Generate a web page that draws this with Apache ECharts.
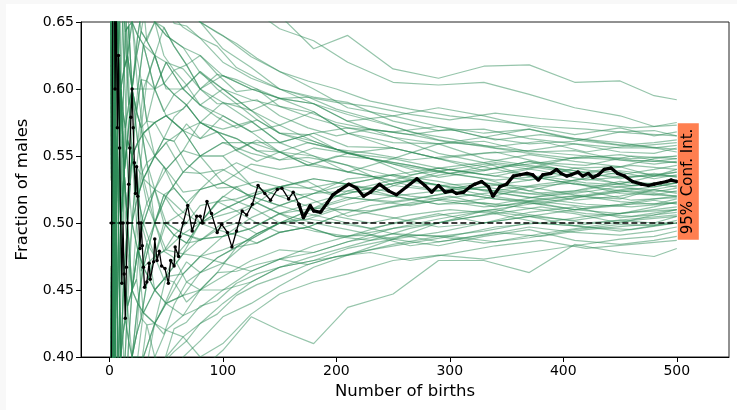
<!DOCTYPE html>
<html><head><meta charset="utf-8">
<script src="https://cdn.jsdelivr.net/npm/echarts@6/dist/echarts.min.js"></script>
<style>
html,body{margin:0;padding:0;background:#f8f8f8;}
#bg{position:absolute;left:6px;top:4px;right:0;bottom:0;background:#fff;}
#c{position:absolute;left:0;top:0;width:737px;height:410px;}
</style></head>
<body><div id="bg"></div><div id="c"></div>
<script>
// ---- data ----
const xTicks = [0, 100, 200, 300, 400, 500];
const yTicks = [0.40, 0.45, 0.50, 0.55, 0.60, 0.65];
const refX = [0, 500];
const refY = [0.5, 0.5];
const labelText = '95% Conf. Int.';
const labelAt = [500, 0.531];

const blackX = [1,2,3,4,5,6,7,8,9,10,11,12,13,14,15,16,17,18,19,20,21,22,23,24,25,26,27,28,29,30,31,33,35,36,39,40,42,44,46,49,52,54,57,58,61,62,65,69,73,77,80,82,86,90,95,99,104,108,112,117,121,126,131,137,142,148,152,158,162,167,171,177,180,186,192,197,202,211,218,224,230,238,246,253,262,271,278,284,290,296,302,306,312,318,322,328,334,338,344,350,356,362,368,373,378,382,389,394,398,403,407,413,417,422,426,431,436,442,448,454,461,469,475,480,486,491,495,500];
const blackY = [0,0.5,0.667,0.75,0.6,0.667,0.571,0.625,0.556,0.5,0.455,0.5,0.462,0.429,0.467,0.5,0.529,0.556,0.579,0.6,0.571,0.545,0.522,0.542,0.52,0.5,0.481,0.5,0.483,0.467,0.452,0.456,0.47,0.458,0.471,0.488,0.472,0.479,0.468,0.466,0.455,0.472,0.468,0.482,0.475,0.49,0.5,0.513,0.494,0.505,0.505,0.5,0.516,0.507,0.493,0.499,0.493,0.482,0.494,0.509,0.506,0.514,0.528,0.522,0.517,0.525,0.526,0.518,0.523,0.514,0.504,0.513,0.509,0.508,0.515,0.521,0.524,0.529,0.526,0.52,0.523,0.529,0.524,0.521,0.527,0.533,0.528,0.523,0.528,0.523,0.524,0.522,0.523,0.527,0.529,0.531,0.527,0.52,0.527,0.529,0.535,0.536,0.537,0.536,0.532,0.536,0.537,0.54,0.537,0.535,0.536,0.538,0.535,0.537,0.534,0.536,0.54,0.541,0.537,0.535,0.531,0.529,0.528,0.529,0.53,0.531,0.532,0.531];

// simulated runs, first group read at these birth counts
const greenX = [1,2,3,4,5,6,8,10,13,16,20,25,30,40,50,65,80,100,125,150,180,210,250,290,330,370,410,450,480,500];
const greenRuns = [
[1,1,.667,.75,.8,.667,.75,.7,.692,.688,.65,.68,.667,.675,.66,.662,.675,.68,.672,.655,.63,.64,.615,.608,.617,.618,.605,.606,.595,.592],
[1,.5,.667,.75,.6,.667,.625,.7,.692,.625,.65,.64,.667,.65,.68,.677,.663,.66,.66,.645,.636,.62,.605,.603,.605,.596,.586,.58,.572,.575],
[0,.5,.667,.5,.6,.5,.625,.6,.615,.625,.6,.6,.6,.625,.6,.6,.613,.6,.584,.593,.589,.576,.58,.586,.58,.572,.566,.571,.565,.568],
[1,1,.667,.75,.6,.5,.5,.5,.538,.562,.55,.56,.567,.575,.58,.569,.575,.57,.576,.56,.567,.571,.568,.572,.564,.559,.561,.568,.569,.565],
[0,.5,.333,.5,.4,.5,.5,.6,.538,.5,.55,.52,.533,.55,.54,.554,.55,.56,.552,.547,.556,.552,.548,.559,.564,.57,.562,.558,.56,.562],
[1,.5,.667,.5,.6,.667,.625,.7,.769,.75,.7,.72,.7,.675,.66,.646,.638,.62,.608,.6,.594,.59,.576,.569,.57,.563,.559,.556,.556,.558],
[0,0,.333,.25,.4,.333,.375,.4,.462,.438,.45,.48,.5,.525,.52,.538,.55,.56,.56,.56,.567,.557,.556,.548,.552,.554,.559,.553,.552,.556],
[1,1,1,.75,.8,.833,.75,.8,.769,.75,.75,.72,.7,.7,.68,.662,.65,.64,.624,.613,.6,.586,.58,.572,.567,.57,.563,.56,.556,.553],
[1,.5,.333,.25,.4,.5,.5,.5,.462,.5,.5,.48,.467,.5,.52,.508,.525,.53,.544,.54,.544,.538,.548,.541,.545,.551,.546,.542,.548,.55],
[0,.5,.667,.75,.6,.667,.625,.6,.538,.562,.6,.6,.633,.6,.62,.615,.6,.59,.584,.573,.583,.567,.56,.559,.561,.553,.554,.547,.546,.548],
[1,.5,.333,.5,.6,.5,.5,.4,.385,.438,.45,.44,.433,.45,.46,.477,.475,.49,.504,.513,.522,.524,.532,.541,.536,.541,.549,.547,.544,.546],
[0,.5,.667,.5,.4,.5,.625,.6,.615,.562,.55,.56,.6,.6,.58,.569,.55,.55,.56,.553,.544,.552,.556,.548,.539,.546,.541,.536,.54,.543],
[1,1,.667,.5,.6,.667,.75,.7,.615,.625,.6,.56,.533,.55,.56,.569,.563,.58,.568,.573,.561,.552,.544,.534,.539,.546,.537,.529,.535,.54],
[0,0,0,.25,.2,.333,.375,.3,.385,.375,.4,.44,.433,.425,.44,.446,.463,.47,.488,.5,.506,.514,.52,.524,.527,.532,.541,.542,.535,.538],
[1,.5,.667,.75,.8,.667,.5,.6,.538,.5,.45,.48,.5,.525,.5,.492,.5,.51,.52,.513,.522,.529,.536,.528,.53,.524,.532,.538,.533,.536],
[0,.5,.333,.5,.4,.333,.375,.5,.538,.562,.6,.64,.633,.6,.62,.6,.588,.6,.592,.587,.578,.571,.564,.559,.548,.543,.539,.533,.537,.534],
[1,1,.667,.5,.4,.5,.5,.6,.615,.625,.65,.6,.567,.575,.58,.585,.6,.61,.6,.593,.583,.567,.556,.548,.542,.535,.529,.527,.529,.532],
[0,.5,.667,.75,.6,.5,.5,.5,.538,.5,.5,.52,.5,.475,.48,.477,.488,.49,.496,.507,.511,.519,.516,.521,.527,.522,.524,.531,.527,.53],
[1,.5,.333,.25,.2,.333,.25,.3,.308,.375,.4,.4,.433,.45,.44,.446,.45,.46,.472,.48,.478,.486,.496,.5,.506,.516,.52,.518,.525,.528],
[0,0,.333,.5,.6,.5,.5,.5,.462,.438,.5,.52,.533,.55,.56,.538,.537,.54,.528,.52,.522,.533,.536,.531,.524,.519,.522,.527,.523,.526],
[1,1,.667,.75,.6,.667,.625,.6,.538,.5,.55,.52,.5,.5,.48,.492,.487,.5,.512,.527,.533,.529,.52,.514,.518,.527,.53,.522,.521,.524],
[1,.5,.667,.5,.6,.5,.375,.4,.462,.5,.55,.6,.633,.65,.64,.631,.612,.6,.584,.567,.561,.552,.544,.538,.533,.524,.517,.52,.525,.522],
[0,.5,.333,.25,.4,.5,.5,.5,.538,.5,.45,.48,.467,.5,.52,.538,.55,.53,.52,.527,.517,.505,.512,.517,.512,.515,.51,.514,.518,.52],
[1,.5,.333,.5,.6,.667,.625,.5,.538,.562,.55,.56,.533,.525,.54,.554,.575,.59,.576,.56,.55,.543,.528,.524,.53,.527,.521,.516,.514,.518],
[0,.5,.667,.5,.4,.333,.25,.3,.308,.312,.35,.36,.4,.425,.42,.431,.45,.45,.464,.473,.483,.49,.5,.507,.5,.505,.51,.507,.512,.516],
[1,1,1,1,.8,.833,.75,.7,.692,.688,.65,.64,.633,.625,.62,.6,.588,.58,.568,.553,.55,.538,.532,.528,.521,.516,.51,.513,.517,.514],
[0,0,.333,.5,.4,.5,.625,.5,.462,.438,.4,.44,.467,.475,.5,.508,.5,.52,.512,.5,.494,.49,.496,.503,.509,.505,.502,.507,.51,.512],
[1,.5,.667,.75,.6,.5,.5,.4,.462,.5,.5,.48,.467,.45,.46,.462,.475,.48,.488,.5,.511,.524,.52,.514,.515,.511,.507,.5,.506,.51],
[0,.5,.333,.5,.6,.667,.75,.7,.615,.625,.55,.52,.567,.575,.58,.569,.55,.55,.528,.52,.511,.51,.504,.497,.5,.508,.512,.504,.506,.508],
[1,.5,.333,.25,.2,.167,.25,.3,.385,.375,.35,.32,.367,.4,.42,.415,.425,.44,.456,.467,.472,.476,.484,.49,.494,.5,.498,.502,.5,.505],
[0,.5,.667,.75,.8,.667,.625,.6,.538,.562,.55,.52,.533,.5,.5,.492,.488,.49,.496,.507,.5,.495,.488,.493,.5,.505,.498,.494,.498,.502],
[1,1,.667,.5,.6,.5,.5,.5,.538,.5,.45,.44,.467,.45,.44,.462,.475,.47,.464,.473,.478,.486,.492,.49,.485,.489,.495,.499,.498,.5],
[0,0,0,.25,.4,.5,.5,.4,.385,.438,.45,.48,.433,.425,.46,.477,.5,.51,.52,.513,.506,.5,.492,.486,.491,.497,.493,.491,.494,.497],
[1,.5,.333,.5,.4,.333,.375,.3,.308,.312,.3,.36,.367,.375,.4,.415,.4,.41,.432,.447,.456,.462,.472,.476,.473,.478,.483,.488,.49,.494],
[0,.5,.667,.5,.6,.5,.375,.4,.385,.375,.4,.4,.4,.425,.44,.431,.437,.45,.456,.467,.472,.481,.488,.483,.49,.495,.487,.484,.487,.49],
[0,0,.333,.25,.2,.333,.25,.3,.308,.312,.35,.36,.367,.375,.38,.385,.39,.405,.43,.42,.41,.437,.447,.472,.472,.463,.484,.478,.475,.481],
[1,.5,.667,.75,.8,.833,.875,.8,.769,.688,.7,.68,.667,.65,.64,.631,.625,.61,.6,.593,.589,.581,.572,.562,.557,.552,.548,.551,.547,.545],
[0,.5,.333,.25,.4,.333,.375,.3,.231,.25,.3,.32,.333,.35,.38,.4,.412,.43,.44,.453,.467,.476,.488,.5,.509,.514,.519,.524,.527,.53],
[1,1,1,.75,.6,.667,.625,.6,.692,.625,.6,.64,.667,.7,.68,.662,.65,.63,.616,.6,.589,.576,.564,.552,.545,.535,.529,.524,.521,.52],
[0,.5,.667,.5,.6,.5,.625,.6,.538,.562,.6,.56,.567,.55,.54,.523,.525,.53,.52,.527,.533,.529,.536,.541,.536,.532,.537,.539,.536,.535]
];

// second group of runs, read at these birth counts
const greenX2 = [1,2,3,4,5,6,7,8,9,10,12,14,17,20,24,28,33,40,48,57,68,80,95,112,130,150,175,200,230,265,300,340,380,420,460,500];
const greenRuns2 = [
[1,1,.667,.75,.8,.833,.714,.75,.667,.7,.667,.714,.647,.65,.625,.643,.636,.625,.646,.632,.618,.625,.611,.598,.6,.587,.583,.575,.57,.566,.57,.562,.566,.562,.557,.56],
[0,.5,.667,.5,.6,.5,.571,.5,.556,.6,.583,.571,.588,.6,.583,.607,.606,.6,.583,.596,.603,.588,.579,.571,.577,.567,.56,.555,.552,.547,.55,.553,.545,.55,.548,.55],
[1,.5,.333,.5,.4,.5,.429,.5,.556,.5,.5,.571,.529,.55,.583,.571,.545,.55,.563,.561,.574,.563,.568,.554,.562,.553,.543,.55,.548,.536,.54,.535,.542,.538,.543,.54],
[0,0,.333,.25,.4,.5,.571,.625,.556,.6,.583,.643,.647,.6,.625,.643,.667,.65,.646,.632,.618,.6,.589,.589,.577,.567,.566,.555,.548,.543,.537,.544,.539,.532,.535,.535],
[1,1,.667,.75,.6,.5,.571,.5,.444,.5,.417,.429,.471,.45,.5,.536,.515,.5,.521,.526,.515,.525,.537,.545,.538,.533,.526,.52,.526,.532,.527,.524,.529,.533,.528,.53],
[0,.5,.667,.75,.8,.667,.714,.75,.778,.7,.667,.643,.588,.6,.583,.571,.576,.6,.604,.596,.588,.575,.568,.563,.554,.547,.549,.545,.539,.532,.527,.524,.521,.525,.531,.527],
[1,.5,.333,.25,.4,.333,.429,.375,.444,.4,.417,.429,.412,.45,.458,.429,.455,.475,.479,.491,.5,.5,.505,.509,.515,.507,.514,.52,.517,.513,.519,.523,.518,.521,.526,.523],
[0,.5,.667,.5,.6,.667,.571,.625,.667,.6,.583,.571,.529,.55,.542,.5,.485,.5,.521,.509,.5,.513,.516,.527,.531,.527,.526,.53,.526,.52,.517,.514,.52,.524,.517,.519],
[1,1,1,.75,.8,.833,.857,.75,.778,.8,.75,.786,.706,.7,.667,.679,.636,.625,.604,.596,.588,.575,.568,.563,.554,.553,.543,.54,.535,.528,.523,.518,.516,.512,.514,.515],
[0,0,0,.25,.2,.333,.286,.375,.333,.4,.417,.357,.412,.4,.417,.464,.485,.475,.458,.456,.471,.463,.474,.482,.485,.493,.497,.505,.5,.506,.51,.507,.512,.507,.505,.51],
[1,.5,.667,.5,.4,.5,.429,.5,.444,.5,.5,.5,.471,.5,.542,.571,.545,.525,.5,.491,.485,.487,.495,.5,.492,.5,.503,.5,.496,.502,.507,.51,.505,.5,.503,.506],
[0,.5,.333,.25,.2,.167,.286,.25,.333,.3,.333,.357,.353,.35,.375,.393,.424,.4,.396,.421,.426,.438,.442,.455,.462,.467,.474,.48,.487,.491,.49,.486,.492,.497,.495,.5],
[1,1,.667,.75,.8,.833,.857,.875,.778,.8,.75,.714,.765,.75,.708,.714,.697,.675,.667,.649,.647,.638,.632,.616,.608,.6,.594,.585,.578,.568,.563,.556,.553,.55,.547,.545],
[0,.5,.333,.5,.6,.5,.571,.625,.556,.5,.583,.571,.647,.65,.667,.643,.636,.65,.625,.614,.603,.613,.6,.589,.592,.58,.571,.565,.57,.566,.56,.557,.561,.553,.558,.555],
[0,0,0,0,.2,.167,.143,.25,.222,.3,.25,.286,.294,.35,.375,.357,.364,.375,.396,.404,.412,.425,.432,.446,.454,.46,.469,.475,.48,.485,.49,.497,.5,.505,.508,.51],
[1,.5,.667,.75,.6,.667,.714,.625,.667,.7,.667,.643,.647,.6,.625,.607,.576,.55,.563,.579,.588,.575,.568,.554,.546,.553,.56,.555,.548,.543,.537,.532,.535,.53,.528,.532],
[0,.5,.333,.25,.4,.5,.429,.375,.333,.4,.333,.357,.353,.4,.417,.429,.455,.475,.5,.491,.485,.5,.516,.518,.523,.527,.531,.52,.526,.532,.54,.545,.541,.536,.534,.538],
[1,.5,.667,.75,.8,.667,.714,.75,.667,.7,.75,.714,.706,.7,.708,.679,.667,.675,.667,.667,.662,.65,.642,.634,.623,.613,.606,.6,.591,.585,.58,.576,.572,.57,.567,.565],
[0,0,.333,.25,.2,.167,.286,.25,.222,.3,.333,.286,.353,.35,.333,.357,.394,.425,.417,.439,.456,.45,.463,.482,.492,.5,.509,.515,.522,.532,.537,.541,.545,.543,.55,.548],
[1,1,.667,.5,.6,.5,.571,.625,.556,.5,.583,.5,.529,.5,.542,.536,.545,.5,.479,.474,.485,.5,.516,.509,.5,.493,.497,.505,.513,.517,.523,.518,.514,.52,.524,.52],
[1,1,1,1,.8,.833,.714,.75,.667,.7,.667,.643,.647,.6,.583,.607,.576,.575,.563,.561,.544,.537,.526,.527,.515,.507,.497,.49,.491,.483,.487,.493,.49,.495,.498,.5],
[0,.5,.333,.5,.4,.5,.429,.375,.444,.4,.417,.429,.412,.4,.417,.429,.424,.425,.438,.456,.441,.45,.463,.464,.469,.473,.469,.475,.478,.472,.477,.483,.487,.481,.484,.487],
[0,.5,.667,.75,.6,.667,.714,.625,.667,.6,.583,.643,.588,.6,.583,.571,.606,.625,.604,.614,.618,.6,.611,.607,.6,.593,.594,.59,.587,.581,.577,.582,.578,.575,.571,.573],
[1,.5,.333,.5,.6,.667,.571,.5,.556,.6,.5,.571,.588,.55,.5,.464,.485,.45,.458,.474,.456,.463,.474,.482,.492,.5,.503,.51,.509,.515,.52,.512,.518,.514,.512,.515],
[0,0,.333,.5,.4,.333,.429,.5,.444,.4,.333,.357,.412,.45,.458,.5,.515,.525,.542,.526,.515,.5,.495,.491,.485,.493,.497,.49,.487,.496,.502,.507,.5,.497,.502,.505]
];

// ---- chart ----
const FONT = 'DejaVu Sans';
const chart = echarts.init(document.getElementById('c'), null, {renderer: 'canvas'});
const series = [];
function addRuns(xs, runs) {
  runs.forEach(run => {
    series.push({
      type: 'line', silent: true, symbol: 'none', animation: false, z: 2,
      lineStyle: {color: '#2e8b57', width: 1.2, opacity: 0.5},
      data: xs.map((x, j) => [x, run[j]])
    });
  });
}
addRuns(greenX, greenRuns);
addRuns(greenX2, greenRuns2);
series.push({
  type: 'line', silent: true, symbol: 'none', animation: false, z: 3,
  lineStyle: {color: '#000', width: 1.4, type: [6, 3]},
  data: refX.map((x, j) => [x, refY[j]])
});
const split = blackX.indexOf(167);
series.push({
  type: 'line', silent: true, animation: false, z: 4,
  symbol: 'circle', symbolSize: 3.5, showSymbol: true,
  itemStyle: {color: '#000'},
  lineStyle: {color: '#000', width: 1.3},
  data: blackX.slice(0, split + 1).map((x, j) => [x, blackY[j]])
});
series.push({
  type: 'line', silent: true, animation: false, z: 4,
  symbol: 'circle', symbolSize: 3.5, showSymbol: true,
  itemStyle: {color: '#000'},
  lineStyle: {color: '#000', width: 3.2},
  data: blackX.slice(split).map((x, j) => [x, blackY[split + j]])
});

chart.setOption({
  backgroundColor: 'transparent',
  animation: false,
  grid: {left: 81, right: 8, top: 22, bottom: 53, show: true, borderColor: '#222', borderWidth: 1, backgroundColor: 'transparent'},
  xAxis: {
    type: 'value', min: -25, max: 546,
    name: 'Number of births', nameLocation: 'middle', nameGap: 26,
    nameTextStyle: {fontFamily: FONT, fontSize: 16.5, color: '#000', verticalAlign: 'top'},
    axisLine: {show: true, onZero: false, lineStyle: {color: '#000', width: 1}},
    axisTick: {show: true, length: 5, lineStyle: {color: '#000'}, customValues: xTicks},
    axisLabel: {fontFamily: FONT, fontSize: 14, color: '#000', margin: 7, customValues: xTicks},
    splitLine: {show: false}
  },
  yAxis: {
    type: 'value', min: 0.40, max: 0.65, interval: 0.05,
    name: 'Fraction of males', nameLocation: 'middle', nameGap: 50,
    nameTextStyle: {fontFamily: FONT, fontSize: 16.5, color: '#000'},
    axisLine: {show: true, onZero: false, lineStyle: {color: '#000', width: 1}},
    axisTick: {show: true, length: 5, lineStyle: {color: '#000'}, customValues: yTicks},
    axisLabel: {fontFamily: FONT, fontSize: 14, color: '#000', margin: 7, customValues: yTicks, formatter: v => v.toFixed(2)},
    splitLine: {show: false}
  },
  series: series
});

const p = chart.convertToPixel({gridIndex: 0}, labelAt);
chart.setOption({
  graphic: [{
    type: 'text', x: p[0] + 11.5, y: p[1], rotation: Math.PI / 2, z: 100,
    style: {
      text: labelText, font: '15px "DejaVu Sans"', fill: '#000',
      align: 'center', verticalAlign: 'middle',
      backgroundColor: '#ff7f50', padding: [3, 5.5, 3, 5.5]
    }
  }]
});
</script>
</body></html>
